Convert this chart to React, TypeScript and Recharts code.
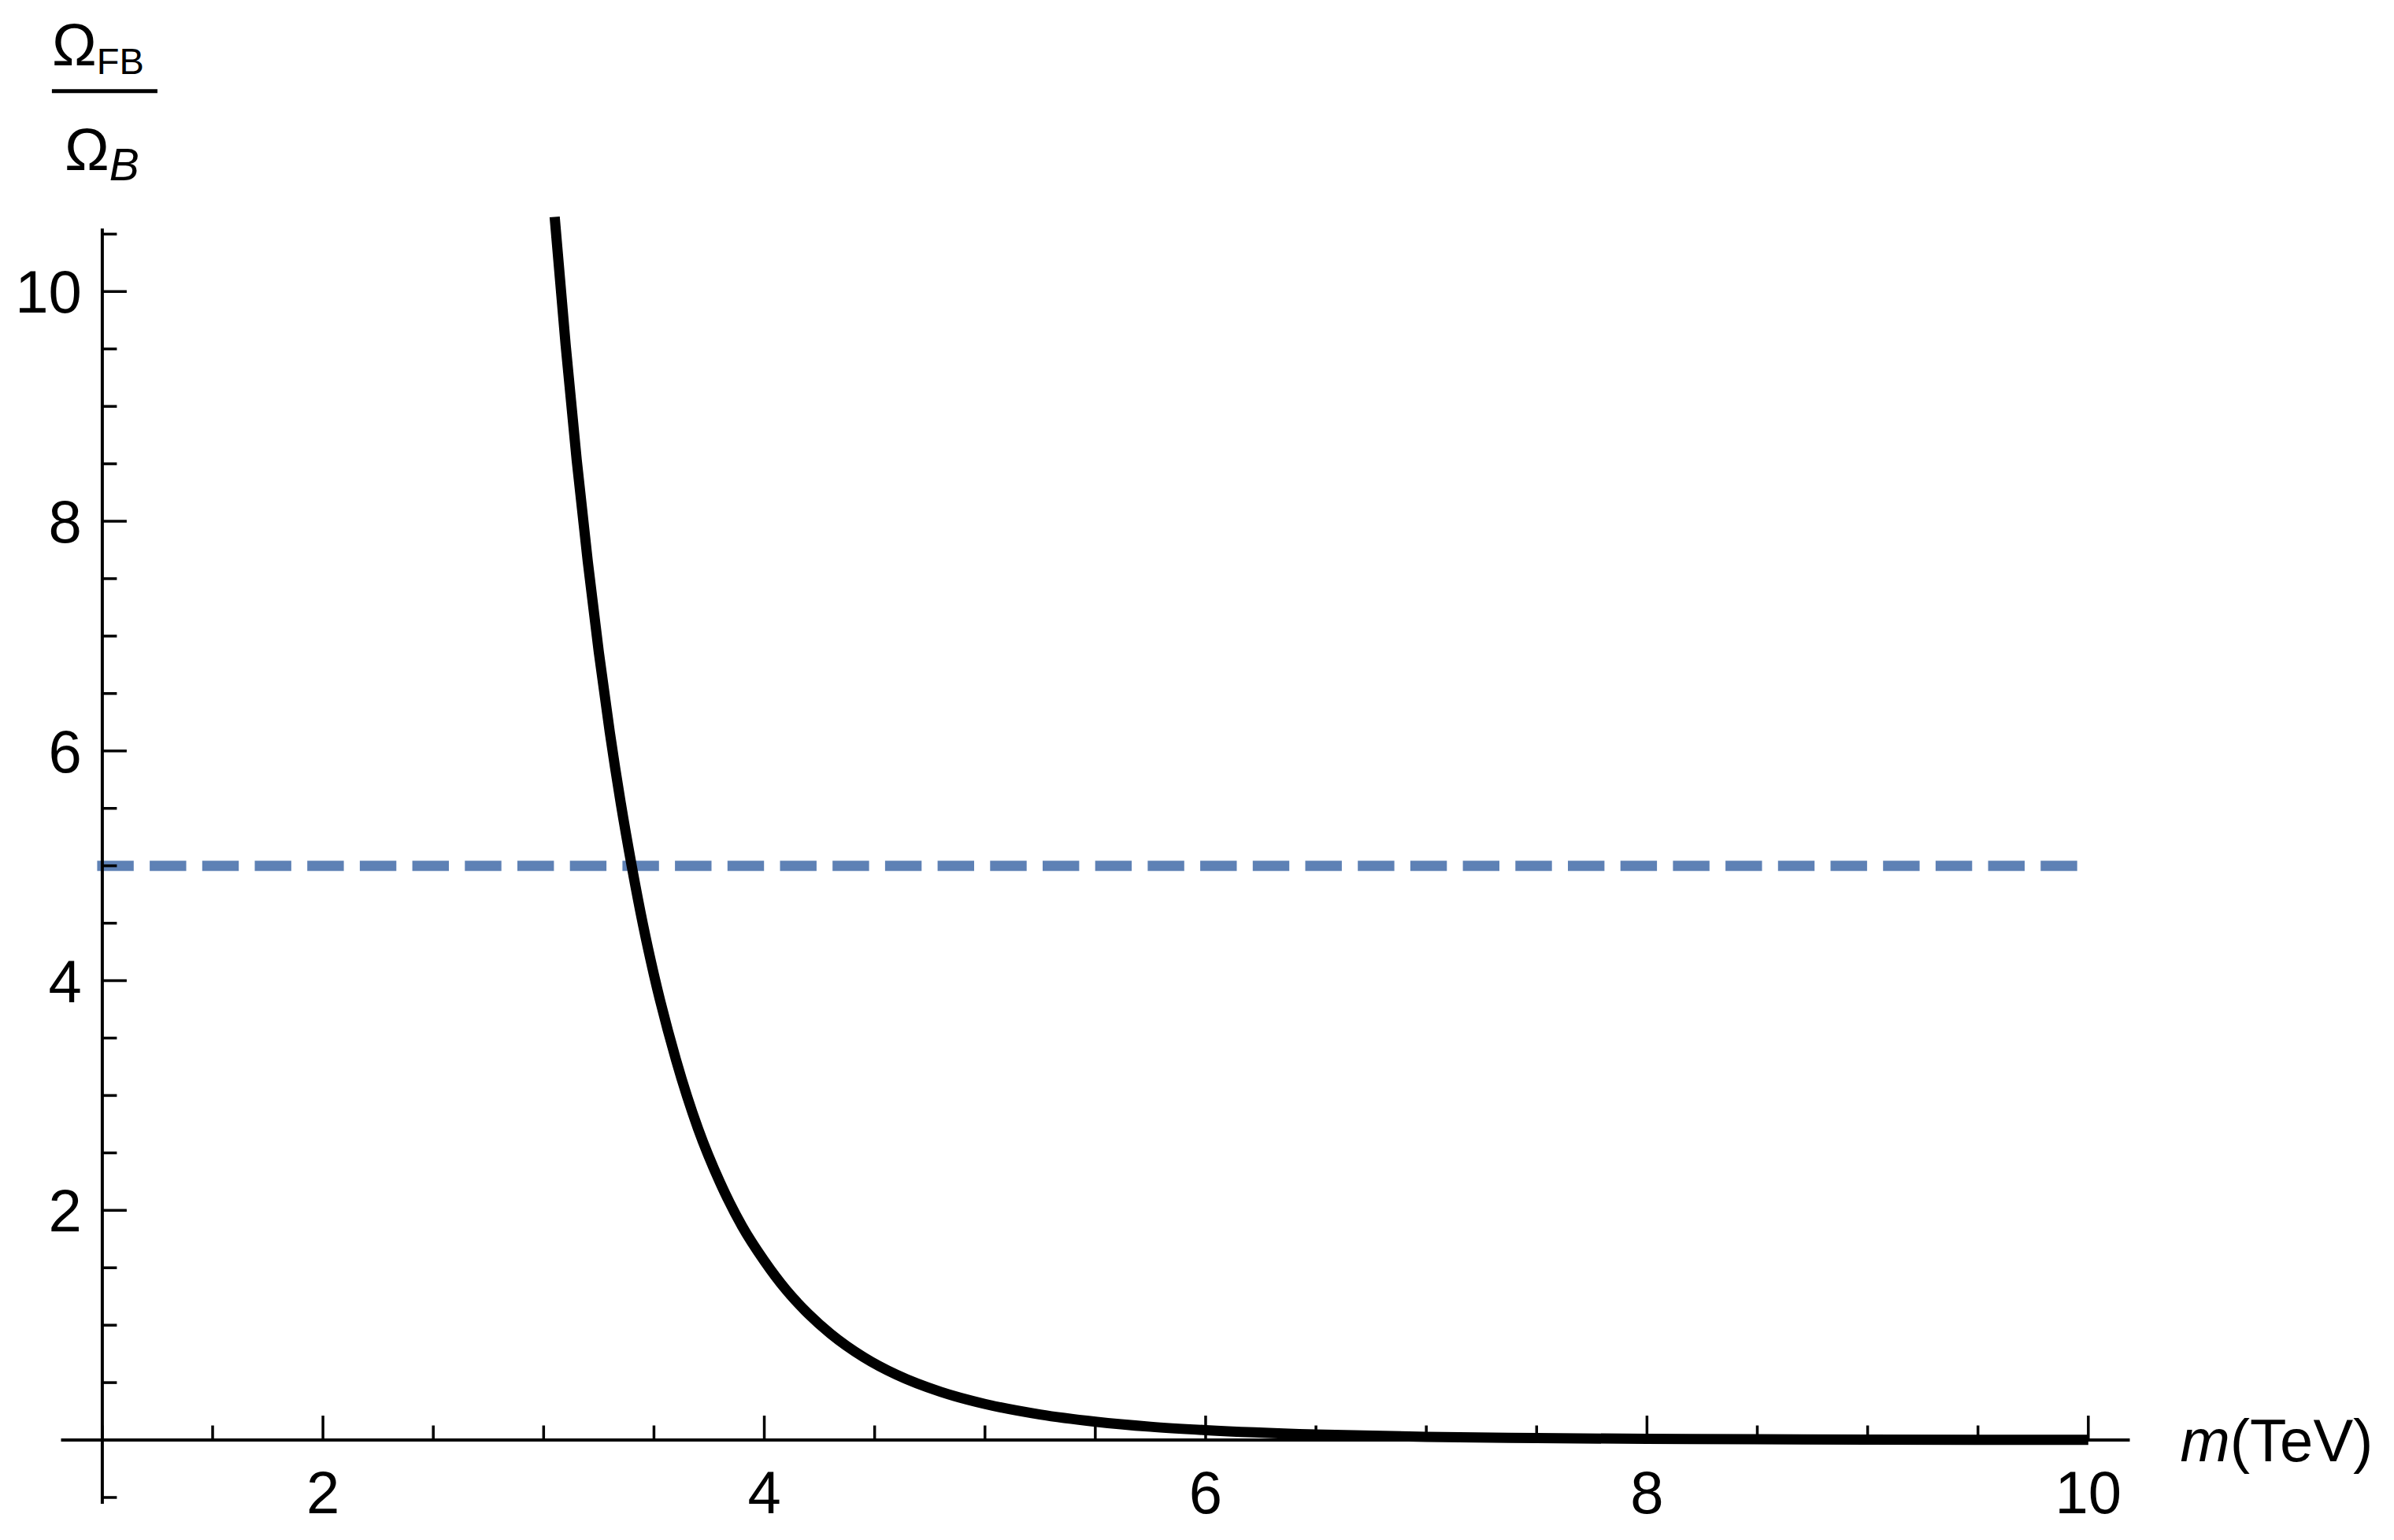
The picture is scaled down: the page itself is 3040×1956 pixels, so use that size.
import React from 'react';
import { LineChart, Line, XAxis, YAxis, ReferenceLine } from 'recharts';

document.body.style.margin = '0';

// curve: m (TeV) vs Omega_FB / Omega_B
const curveX = [3.05, 3.1, 3.15, 3.2, 3.25, 3.3, 3.35, 3.4, 3.45, 3.5, 3.6, 3.7, 3.8, 3.9, 4.0, 4.1, 4.2, 4.3, 4.45, 4.6, 4.8, 5.0, 5.25, 5.5, 5.75, 6.0, 6.5, 7.0, 7.5, 8.0, 8.5, 9.0, 9.5, 10.0];
const curveY = [10.65, 9.53, 8.53, 7.65, 6.86, 6.16, 5.54, 4.99, 4.49, 4.05, 3.31, 2.71, 2.24, 1.86, 1.56, 1.305, 1.098, 0.926, 0.722, 0.568, 0.419, 0.314, 0.222, 0.16, 0.116, 0.086, 0.048, 0.028, 0.017, 0.0104, 0.0066, 0.0042, 0.0028, 0.0018];

// dashed reference level
const limitX = [1, 10];
const limitY = [5, 5];

const xMajor = [2, 4, 6, 8, 10];
const xMajorLabels = ['2', '4', '6', '8', '10'];
const xMinor = [1, 1.5, 2.5, 3, 3.5, 4.5, 5, 5.5, 6.5, 7, 7.5, 8.5, 9, 9.5];
const yMajor = [0, 2, 4, 6, 8, 10];
const yMajorLabels = ['', '2', '4', '6', '8', '10'];
const yMinor = [-0.5, 0.5, 1, 1.5, 2.5, 3, 3.5, 4.5, 5, 5.5, 6.5, 7, 7.5, 8.5, 9, 9.5, 10.5];

const curveData = curveX.map((x, i) => ({ x, y: curveY[i] }));
const limitData = limitX.map((x, i) => ({ x, y: limitY[i] }));

const W = 3040;
const H = 1956;
const margin = { top: 274, right: 335.5, bottom: 46, left: 77.5 };
const X_DOMAIN: [number, number] = [0.813, 10.188];
const Y_DOMAIN: [number, number] = [-0.555, 10.66];
const Y_AXIS_TOP = 10.548;
const X_ORIGIN = 1;

const FONT = '"Liberation Sans", Arial, Helvetica, sans-serif';
const FS = 76;

// tick lengths are given in pixels, turned into data units here
const pxPerX = (W - margin.left - margin.right) / (X_DOMAIN[1] - X_DOMAIN[0]);
const pxPerY = (H - margin.top - margin.bottom) / (Y_DOMAIN[1] - Y_DOMAIN[0]);
const MAJOR = 31;
const MINOR = 18.5;

const AxisName = ({ viewBox }: any) => (
  <text x={viewBox.x + viewBox.width + 64} y={viewBox.y + 27} fontSize={FS} fontFamily={FONT} fill="#000">
    <tspan fontStyle="italic">m</tspan>
    <tspan>(TeV)</tspan>
  </text>
);

const Fraction = ({ viewBox }: any) => {
  const cx = viewBox.x;
  const top = viewBox.y;
  return (
    <g fontFamily={FONT} fill="#000">
      <text x={cx - 64} y={top - 207} fontSize={FS}>
        <tspan>Ω</tspan>
        <tspan dy={11} fontSize={47}>FB</tspan>
      </text>
      <line x1={cx - 64} x2={cx + 70} y1={top - 174.5} y2={top - 174.5} stroke="#000" strokeWidth={5} />
      <text x={cx - 48} y={top - 74} fontSize={FS}>
        <tspan>Ω</tspan>
        <tspan dy={13} fontSize={57} fontStyle="italic">B</tspan>
      </text>
    </g>
  );
};

const tickLabel = (value: string, position: 'bottom' | 'left', offset: number) =>
  value
    ? { value, position, offset, fill: '#000', fontSize: FS, fontFamily: FONT }
    : undefined;

export default function App() {
  return (
    <div style={{ width: W, height: H, background: '#fff' }}>
      <LineChart width={W} height={H} margin={margin}>
        <XAxis type="number" dataKey="x" domain={X_DOMAIN} allowDataOverflow hide />
        <YAxis type="number" dataKey="y" domain={Y_DOMAIN} allowDataOverflow hide />
        <Line
          data={limitData}
          dataKey="y"
          stroke="#5E81B5"
          strokeWidth={13}
          strokeDasharray="33.4 33.3"
          strokeLinecap="square"
          dot={false}
          activeDot={false}
          isAnimationActive={false}
        />
        <Line
          data={curveData}
          dataKey="y"
          type="monotone"
          stroke="#000"
          strokeWidth={13}
          dot={false}
          activeDot={false}
          isAnimationActive={false}
        />
        {/* axes */}
        <ReferenceLine y={0} stroke="#000" strokeWidth={4} label={(p: any) => <AxisName viewBox={p.viewBox} />} />
        <ReferenceLine
          segment={[{ x: X_ORIGIN, y: Y_DOMAIN[0] }, { x: X_ORIGIN, y: Y_AXIS_TOP }]}
          stroke="#000"
          strokeWidth={4}
          label={(p: any) => <Fraction viewBox={p.viewBox} />}
        />
        {xMinor.map((v) => (
          <ReferenceLine key={`xm${v}`} segment={[{ x: v, y: 0 }, { x: v, y: MINOR / pxPerY }]} stroke="#000" strokeWidth={3.5} />
        ))}
        {xMajor.map((v, i) => (
          <ReferenceLine
            key={`xM${v}`}
            segment={[{ x: v, y: 0 }, { x: v, y: MAJOR / pxPerY }]}
            stroke="#000"
            strokeWidth={3.5}
            label={tickLabel(xMajorLabels[i], 'bottom', 39)}
          />
        ))}
        {yMinor.map((v) => (
          <ReferenceLine key={`ym${v}`} segment={[{ x: X_ORIGIN, y: v }, { x: X_ORIGIN + MINOR / pxPerX, y: v }]} stroke="#000" strokeWidth={3.5} />
        ))}
        {yMajor.map((v, i) => (
          <ReferenceLine
            key={`yM${v}`}
            segment={[{ x: X_ORIGIN, y: v }, { x: X_ORIGIN + MAJOR / pxPerX, y: v }]}
            stroke="#000"
            strokeWidth={3.5}
            label={tickLabel(yMajorLabels[i], 'left', 26)}
          />
        ))}
      </LineChart>
    </div>
  );
}
